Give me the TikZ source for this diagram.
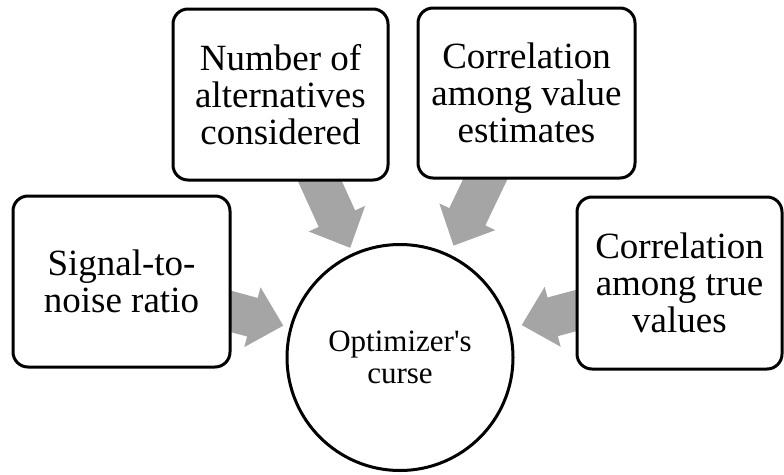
\documentclass[tikz,border=0pt]{standalone}
\usepackage{fontspec}
\newfontfamily\tnr{Liberation Serif}
\usetikzlibrary{calc}
\pgfdeclarelayer{bg}
\pgfsetlayers{bg,main}
\definecolor{arrowgray}{RGB}{165,165,165}
\tikzset{
  factor/.style={draw=black, line width=3pt, fill=white, rounded corners=15pt,
    align=center, inner sep=0pt, font={\tnr\fontsize{37pt}{37pt}\selectfont}},
  hub/.style={circle, draw=black, line width=3pt, fill=white, minimum size=226pt,
    align=center, inner sep=0pt, font={\tnr\fontsize{31pt}{32pt}\selectfont}},
  blockfill/.style={fill=arrowgray, draw=none},
}
% #1 source box, #2 hub, #3 tip distance from hub centre, #4 prefix for coordinates
\newcommand\blockarr[4]{%
  \path ($(#2)!#3!(#1)$) coordinate (#4t)
        ($(#4t)!32pt!(#1)$) coordinate (#4h);
  \fill[blockfill] ($(#1)!20pt!90:(#4t)$) -- ($(#4h)!20pt!-90:(#1)$)
     -- ($(#4h)!31pt!-90:(#1)$) -- (#4t) -- ($(#4h)!31pt!90:(#1)$)
     -- ($(#4h)!20pt!90:(#1)$) -- ($(#1)!20pt!-90:(#4t)$) -- cycle;
}
\begin{document}
\begin{tikzpicture}[x=1pt,y=-1pt]
\useasboundingbox (0,0) rectangle (784,474);
\node[hub] (oc) at (400,357.5) {Optimizer's\\curse};
\node[factor, minimum width=217pt, minimum height=171pt] (sig) at (121.5,281.5) {Signal-to-\\noise ratio};
\node[factor, minimum width=215pt, minimum height=171pt] (num) at (280.5,94.5) {Number of\\alternatives\\considered};
\node[factor, minimum width=217pt, minimum height=170pt] (cve) at (526.5,93) {Correlation\\among value\\estimates};
\node[factor, minimum width=205pt, minimum height=172pt] (ctv) at (679.5,283) {Correlation\\among true\\values};
\begin{pgfonlayer}{bg}
\blockarr{sig}{oc}{121pt}{a}
\blockarr{num}{oc}{120.5pt}{b}
\blockarr{cve}{oc}{124pt}{c}
\blockarr{ctv}{oc}{126pt}{d}
\end{pgfonlayer}
\end{tikzpicture}
\end{document}
